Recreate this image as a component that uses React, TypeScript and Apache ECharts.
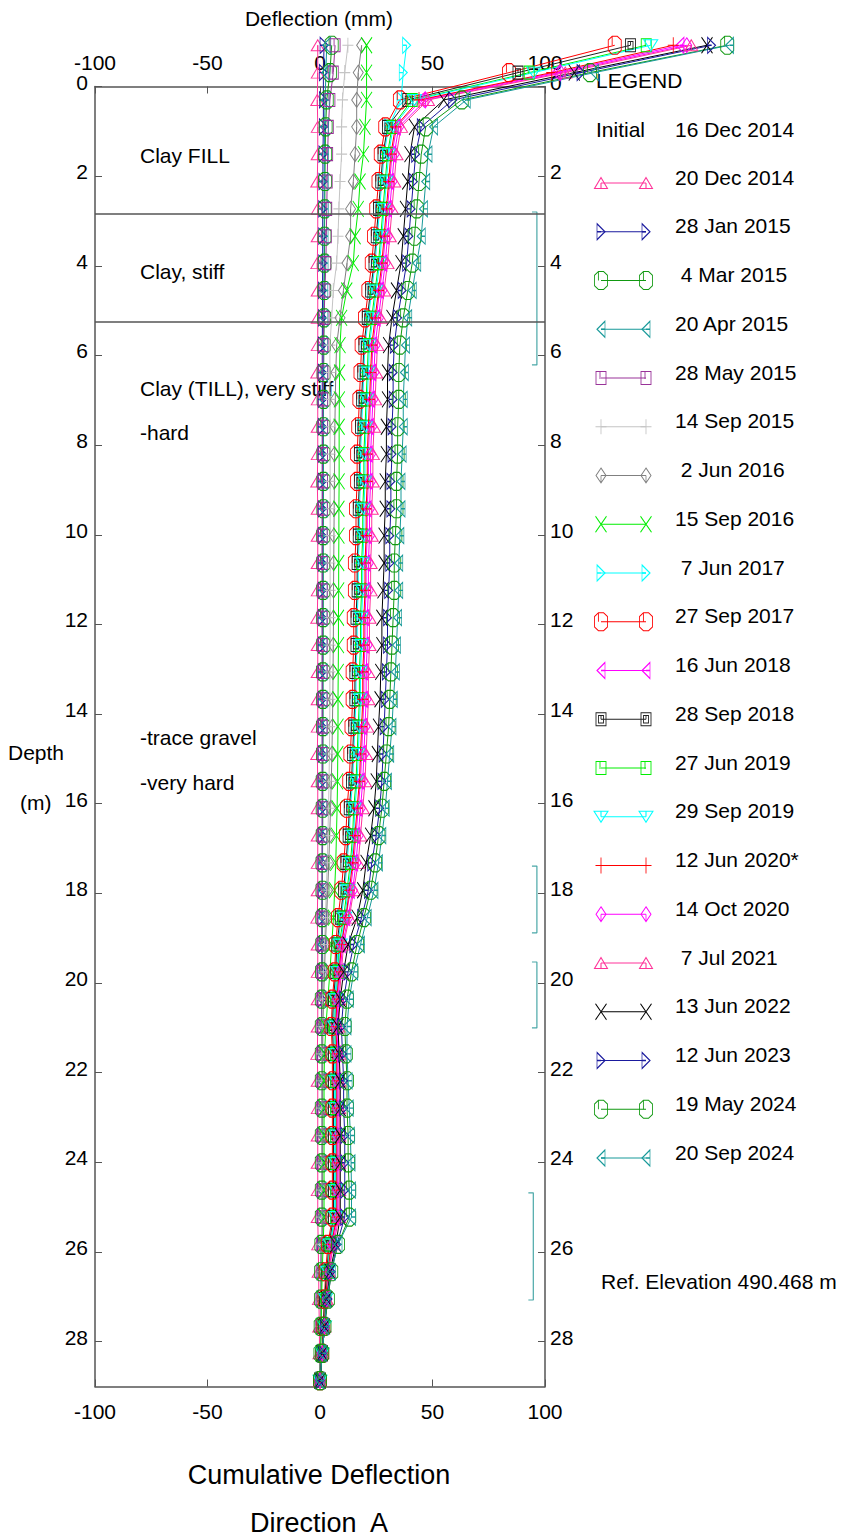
import React, { useEffect, useRef } from 'react';
import * as echarts from 'echarts';

// Depth of each reading (m)
const DEPTHS = [
  -0.92, -0.31, 0.30, 0.90, 1.51, 2.12, 2.73, 3.34, 3.94, 4.55,
  5.16, 5.77, 6.38, 6.98, 7.59, 8.20, 8.81, 9.42, 10.02, 10.63,
  11.24, 11.85, 12.46, 13.06, 13.67, 14.28, 14.89, 15.50, 16.10, 16.71,
  17.32, 17.93, 18.54, 19.14, 19.75, 20.36, 20.97, 21.58, 22.18, 22.79,
  23.40, 24.01, 24.62, 25.22, 25.83, 26.44, 27.05, 27.66, 28.26, 28.87,
];

const D_20DEC2014 = [
  -1, -1, -1.2, -1, -1, -1.2, -1, -1, -1.2, -1,
  -1, -1, -1.2, -1, -1, -1, -1.2, -1, -1, -1,
  -1, -1.2, -1, -1, -1, -1, -1.2, -1, -1, -1,
  -1, -1, -1.2, -1, -1, -1, -1, -1.2, -1, -1,
  -1, -1, -1, -1, -0.8, -0.6, -0.5, -0.3, -0.2, 0,
];
const D_28JAN2015 = [
  1.8, 1.5, 1.5, 1.5, 1.3, 1.3, 1.2, 1.2, 1.2, 1.1,
  1.1, 1, 1, 1, 1, 1, 1, 1, 1, 1,
  1, 1, 1, 1, 1, 1, 1, 1, 1, 1,
  1, 1, 0.9, 0.9, 0.8, 0.8, 0.8, 0.8, 0.8, 0.8,
  0.8, 0.8, 0.8, 0.8, 0.6, 0.5, 0.4, 0.3, 0.2, 0,
];
const D_4MAR2015 = [
  5.2, 4.4, 3, 2.5, 2.3, 2.2, 2.1, 2, 2, 1.9,
  1.8, 1.7, 1.6, 1.6, 1.5, 1.5, 1.5, 1.5, 1.4, 1.4,
  1.4, 1.4, 1.4, 1.3, 1.3, 1.3, 1.3, 1.2, 1.2, 1.2,
  1.1, 1.1, 1, 1, 0.9, 0.8, 0.8, 0.8, 0.8, 0.8,
  0.8, 0.8, 0.8, 0.8, 0.6, 0.5, 0.4, 0.3, 0.2, 0,
];
const D_20APR2015 = [
  3, 2.6, 2.3, 2, 2, 1.9, 1.9, 1.8, 1.8, 1.7,
  1.7, 1.6, 1.6, 1.5, 1.5, 1.5, 1.5, 1.4, 1.4, 1.4,
  1.4, 1.3, 1.3, 1.3, 1.3, 1.3, 1.2, 1.2, 1.2, 1.1,
  1.1, 1, 1, 0.9, 0.9, 0.8, 0.8, 0.8, 0.8, 0.8,
  0.8, 0.8, 0.8, 0.8, 0.6, 0.5, 0.4, 0.3, 0.2, 0,
];
const D_28MAY2015 = [
  6.7, 5.9, 4.4, 3.7, 3.4, 3.2, 3, 2.8, 2.6, 2.2,
  1.8, 1.4, 1.3, 1.2, 1.2, 1.1, 1.1, 1.1, 1, 1,
  1, 1, 1, 1, 1, 1, 1, 1, 1, 1,
  0.9, 0.9, 0.9, 0.8, 0.8, 0.8, 0.8, 0.8, 0.8, 0.8,
  0.8, 0.8, 0.8, 0.8, 0.6, 0.5, 0.4, 0.3, 0.2, 0,
];
const D_14SEP2015 = [
  12.4, 11, 10, 9.6, 9.6, 8.9, 8.4, 8, 7.4, 5.9,
  5.2, 4.4, 4.4, 4.4, 4.5, 4.5, 4.5, 4.5, 4.5, 4.5,
  4.5, 4.5, 4.5, 4.4, 4.4, 4.3, 4.2, 4, 3.8, 3.5,
  3.2, 2.8, 2.4, 2, 1.6, 1.2, 1, 0.8, 0.8, 0.8,
  0.8, 0.8, 0.8, 0.8, 0.6, 0.5, 0.4, 0.3, 0.2, 0,
];
const D_2JUN2016 = [
  18.5, 17, 16.3, 16.3, 15.6, 14.8, 13.6, 13.6, 12, 10.4,
  8.9, 7.4, 7, 6.8, 6.6, 6.5, 6.4, 6.3, 6.2, 6.1,
  6, 6, 5.9, 5.8, 5.7, 5.5, 5.3, 5, 4.7, 4.3,
  3.9, 3.4, 2.9, 2.4, 2, 1.6, 1.3, 1.2, 1.2, 1.2,
  1.2, 1.2, 1.2, 1.2, 0.9, 0.7, 0.5, 0.4, 0.2, 0,
];
const D_15SEP2016 = [
  20.7, 20.7, 20.7, 20, 19.3, 17.8, 17, 15.6, 14.8, 11.9,
  9.6, 8.9, 8.7, 8.6, 8.5, 8.5, 8.5, 8.4, 8.4, 8.3,
  8.3, 8.2, 8.2, 8.1, 8, 8, 7.9, 7.8, 7.6, 7.3,
  7, 6.5, 6, 5.2, 4.4, 3.5, 2.6, 2, 1.8, 1.8,
  1.8, 1.8, 1.8, 1.8, 1.4, 1, 0.7, 0.5, 0.3, 0,
];
const D_7JUN2017 = [
  38.5, 37, 36, 30.5, 28.5, 27.5, 26.5, 25.5, 24.5, 23,
  21.5, 20, 19.5, 19, 18.5, 18, 18, 17.5, 17.5, 17,
  17, 16.5, 16.5, 16, 16, 15.5, 15, 14.5, 13.5, 13,
  12, 11, 9.5, 8, 7.5, 6.5, 6, 6.5, 6.5, 6.5,
  6.5, 6.5, 6.5, 6.5, 4.5, 3.5, 2.5, 2, 1, 0,
];
const D_27SEP2017 = [
  131, 84, 35.5, 29, 27, 26, 25, 24, 23, 21.5,
  20, 18.5, 18, 17.5, 17, 16.5, 16.5, 16, 16, 15.5,
  15.5, 15, 15, 14.5, 14.5, 14, 13.5, 13, 12, 11.5,
  10.5, 9.5, 8, 7, 6.5, 5.5, 5, 5.5, 5.5, 5.5,
  5.5, 5.5, 5.5, 5.5, 3.5, 2.5, 2, 1.5, 1, 0,
];
const D_16JUN2018 = [
  160, 105, 45, 34, 32, 31, 30, 29, 28, 26.5,
  25, 23.5, 23, 22.5, 22, 21.5, 21.5, 21, 21, 20.5,
  20.5, 20, 20, 19.5, 19.5, 19, 18.5, 18, 17, 16,
  15, 13.5, 11.5, 9.5, 8.5, 7.5, 7, 7.5, 7.5, 7.5,
  7.5, 7.5, 7.5, 7.5, 5, 3.5, 2.5, 2, 1, 0,
];
const D_28SEP2018 = [
  138, 88, 39, 30, 28, 27, 26, 25, 24, 22.5,
  21, 19.5, 19, 18.5, 18, 17.5, 17.5, 17, 17, 16.5,
  16.5, 16, 16, 15.5, 15.5, 15, 14.5, 14, 13, 12.5,
  11.5, 10.5, 9, 7.5, 7, 6, 5.5, 6, 6, 6,
  6, 6, 6, 6, 4, 3, 2, 1.5, 1, 0,
];
const D_27JUN2019 = [
  145, 93, 41, 32, 30, 29, 28, 27, 26, 24.5,
  23, 21.5, 21, 20.5, 20, 19.5, 19.5, 19, 19, 18.5,
  18.5, 18, 18, 17.5, 17.5, 17, 16.5, 16, 15, 14.5,
  13.5, 12, 10.5, 8.5, 8, 7, 6.5, 7, 7, 7,
  7, 7, 7, 7, 4.5, 3.5, 2.5, 2, 1, 0,
];
const D_29SEP2019 = [
  147, 95, 42, 32.5, 30.5, 29.5, 28.5, 27.5, 26.5, 25,
  23.5, 22, 21.5, 21, 20.5, 20, 20, 19.5, 19.5, 19,
  19, 18.5, 18.5, 18, 18, 17.5, 17, 16.5, 15.5, 15,
  14, 12.5, 11, 9, 8, 7, 6.5, 7, 7, 7,
  7, 7, 7, 7, 4.5, 3.5, 2.5, 2, 1, 0,
];
const D_12JUN2020 = [
  157, 103, 44, 33.5, 31.5, 30.5, 29.5, 28.5, 27.5, 26,
  24.5, 23, 22.5, 22, 21.5, 21, 21, 20.5, 20.5, 20,
  20, 19.5, 19.5, 19, 19, 18.5, 18, 17.5, 16.5, 15.5,
  14.5, 13, 11.5, 9.5, 8.5, 7.5, 7, 7.5, 7.5, 7.5,
  7.5, 7.5, 7.5, 7.5, 5, 3.5, 2.5, 2, 1, 0,
];
const D_14OCT2020 = [
  163, 107, 47, 35, 33, 32, 31, 30, 29, 27.5,
  26, 24.5, 24, 23.5, 23, 22.5, 22.5, 22, 22, 21.5,
  21.5, 21, 21, 20.5, 20.5, 20, 19.5, 19, 18, 17,
  16, 14.5, 12.5, 10, 9, 8, 7.5, 8, 8, 8,
  8, 8, 8, 8, 5.5, 4, 3, 2, 1, 0,
];
const D_7JUL2021 = [
  165, 109, 48, 36, 34, 33, 32, 31, 30, 28.5,
  27, 25.5, 25, 24.5, 24, 23.5, 23.5, 23, 23, 22.5,
  22.5, 22, 22, 21.5, 21.5, 21, 20.5, 20, 19, 18,
  17, 15, 13, 10.5, 9.5, 8.5, 8, 8.5, 8.5, 8.5,
  8.5, 8.5, 8.5, 8.5, 6, 4, 3, 2, 1, 0,
];
const D_13JUN2022 = [
  172, 113, 55, 42, 40, 39, 38, 37, 36, 34,
  32, 30.5, 30, 30, 29.5, 29.5, 29, 29, 28.5, 28.5,
  28, 27.5, 27.5, 27, 26.7, 26, 25.5, 25, 24, 22.5,
  20.5, 19, 16.5, 12.5, 10.5, 9, 8, 8.5, 9, 9,
  9, 9, 9, 9, 7, 4.5, 3, 2, 1, 0,
];
const D_12JUN2023 = [
  174, 116, 59, 45, 42.5, 41.5, 40.5, 39.5, 38.5, 36.5,
  34.5, 33, 32.5, 32.5, 32, 32, 31.5, 31.5, 31, 31,
  30.5, 30, 30, 29.5, 29, 28.5, 28, 27.5, 26.5, 25,
  23, 21.5, 18.5, 15, 12.5, 10.5, 9.5, 10, 10.5, 10.5,
  11, 11, 11, 11, 7.5, 5, 3.5, 2, 1, 0,
];
const D_19MAY2024 = [
  181, 120, 63, 47, 45, 44, 43, 42, 41, 39,
  37, 35.5, 35, 35, 34.5, 34.5, 34, 34, 33.5, 33,
  33, 32.5, 32, 31.5, 31, 30.5, 29.5, 28.5, 27.5, 26,
  24.5, 22.5, 19.5, 16.5, 14, 12, 11, 11.5, 12, 12,
  12.5, 12.5, 13, 13, 8, 5, 3.5, 2, 1, 0,
];
const D_20SEP2024 = [
  182, 122, 65, 50.5, 48, 47, 46, 45, 43, 41,
  39, 38, 37.5, 37, 37, 36.5, 36, 36, 35.5, 35,
  35, 34.5, 34, 33.5, 32.6, 32, 31, 30, 29, 27.5,
  26, 24, 21, 18, 15, 13, 12, 12, 12.5, 13,
  13.5, 13.8, 14, 14, 8, 5, 3, 2, 1, 0,
];

const SERIES_NAMES = [
  '20 Dec 2014', '28 Jan 2015', ' 4 Mar 2015', '20 Apr 2015', '28 May 2015',
  '14 Sep 2015', ' 2 Jun 2016', '15 Sep 2016', ' 7 Jun 2017', '27 Sep 2017',
  '16 Jun 2018', '28 Sep 2018', '27 Jun 2019', '29 Sep 2019', '12 Jun 2020*',
  '14 Oct 2020', ' 7 Jul 2021', '13 Jun 2022', '12 Jun 2023', '19 May 2024',
  '20 Sep 2024',
];
const SERIES_VALUES = [
  D_20DEC2014, D_28JAN2015, D_4MAR2015, D_20APR2015, D_28MAY2015,
  D_14SEP2015, D_2JUN2016, D_15SEP2016, D_7JUN2017, D_27SEP2017,
  D_16JUN2018, D_28SEP2018, D_27JUN2019, D_29SEP2019, D_12JUN2020,
  D_14OCT2020, D_7JUL2021, D_13JUN2022, D_12JUN2023, D_19MAY2024,
  D_20SEP2024,
];

const INITIAL_DATE = '16 Dec 2014';
const X_MIN = -100;
const X_MAX = 100;
const X_STEP = 50;
const DEPTH_MAX = 29;
const DEPTH_STEP = 2;
const SOIL_BOUNDARIES = [2.84, 5.25];
const BRACKETS = [[2.8, 6.21], [17.39, 18.88], [19.53, 21.0], [24.68, 27.07]];

// marker shapes
const TRI_UP = 'path://M0,10L5,0L10,10ZM5,10L5,5';
const TRI_RIGHT = 'path://M0,0L10,5L0,10ZM0,5L5,5';
const TRI_LEFT = 'path://M10,0L0,5L10,10ZM10,5L5,5';
const TRI_DOWN = 'path://M0,0L10,0L5,10ZM5,0L5,5';
const OCT = 'path://M3,0L7,0L10,3L10,11L7,14L3,14L0,11L0,3ZM3,0L3,7';
const SQUARE = 'path://M0,0L10,0L10,12L0,12ZM4,0L4,7';
const SQUARE2 = 'path://M0,0L10,0L10,12L0,12ZM2.5,2.5L7.5,2.5L7.5,9.5L2.5,9.5ZM5,2.5L5,6';
const PLUS = 'path://M5,0L5,10M0,5L10,5';
const DIAM = 'path://M5,0L10,7L5,14L0,7ZM5,14L5,7';
const XMARK = 'path://M0,0L10,14M10,0L0,14';

const PINK = '#ff3399';
const NAVY = '#1a1a9e';
const GREEN = '#119911';
const TEAL = '#179999';
const STYLES = [
  { c: PINK, s: TRI_UP, z: [13, 11] },
  { c: NAVY, s: TRI_RIGHT, z: [8, 16] },
  { c: GREEN, s: OCT, z: [13, 18] },
  { c: TEAL, s: TRI_LEFT, z: [8, 16] },
  { c: '#993399', s: SQUARE, z: [10, 13] },
  { c: '#c4c4c4', s: PLUS, z: [11, 15] },
  { c: '#808080', s: DIAM, z: [10, 15] },
  { c: '#00ee00', s: XMARK, z: [11, 16] },
  { c: '#00ffff', s: TRI_RIGHT, z: [8, 16] },
  { c: '#ff0000', s: OCT, z: [13, 18] },
  { c: '#ff00ff', s: TRI_LEFT, z: [8, 16] },
  { c: '#222222', s: SQUARE2, z: [10, 13] },
  { c: '#00ee00', s: SQUARE, z: [10, 13] },
  { c: '#00ffff', s: TRI_DOWN, z: [14, 11] },
  { c: '#ff0000', s: PLUS, z: [11, 16] },
  { c: '#ff00ff', s: DIAM, z: [10, 15] },
  { c: PINK, s: TRI_UP, z: [13, 11] },
  { c: '#000000', s: XMARK, z: [11, 16] },
  { c: NAVY, s: TRI_RIGHT, z: [8, 16] },
  { c: GREEN, s: OCT, z: [13, 18] },
  { c: TEAL, s: TRI_LEFT, z: [8, 16] },
];

const FONT = "'Liberation Sans', Arial, sans-serif";

// plot geometry
const CHART_W = 843;
const CHART_H = 1539;
const PLOT_LEFT = 95;
const PLOT_TOP = 86.5;
const PLOT_W = 450;
const PLOT_H = 1300;

export default function App() {
  const ref = useRef<HTMLDivElement>(null);
  useEffect(() => {
    if (!ref.current) return;
    const chart = echarts.init(ref.current, null, { renderer: 'svg' });
    const axisLine = { show: true, onZero: false, lineStyle: { color: '#555', width: 1.5 } };
    const axisTick = { show: true, inside: true, length: 7, lineStyle: { color: '#555', width: 1 } };
    const lbl = { color: '#000', fontSize: 21, fontFamily: FONT };

    // data are drawn on a hidden, wider coordinate system with the same scale
    // (extending to the right edge of the page), so readings beyond 100 mm are not clipped
    const wideWidth = CHART_W - PLOT_LEFT;
    const wideMax = X_MIN + ((X_MAX - X_MIN) * wideWidth) / PLOT_W;

    const dataSeries: any[] = SERIES_VALUES.map((vals, i) => ({
      type: 'line',
      name: SERIES_NAMES[i],
      xAxisIndex: 3,
      yAxisIndex: 3,
      data: DEPTHS.map((d, k) => [vals[k], d]),
      symbol: STYLES[i].s,
      symbolSize: STYLES[i].z,
      showAllSymbol: true,
      clip: false,
      silent: true,
      lineStyle: { color: STYLES[i].c, width: 1 },
      itemStyle: { color: 'transparent', borderColor: STYLES[i].c, borderWidth: 1 },
      z: 3,
    }));

    const bracketSeries: any[] = BRACKETS.map(([a, b], i) => {
      const xv = i === 3 ? 94.8 : 96.4;
      const xc = xv - 2.2;
      return {
        type: 'line',
        xAxisIndex: 0,
        yAxisIndex: 0,
        data: [[xc, a], [xv, a], [xv, b], [xc, b]],
        symbol: 'none',
        silent: true,
        lineStyle: { color: '#4aa8a8', width: 1.2 },
        z: 2,
      };
    });
    bracketSeries[0].markLine = {
      silent: true,
      symbol: 'none',
      label: { show: false },
      lineStyle: { color: '#555', width: 1.5, type: 'solid' },
      data: SOIL_BOUNDARIES.map((d) => ({ yAxis: d })),
    };

    const legendSeries = SERIES_NAMES.map((n, i) => ({
      type: 'line',
      xAxisIndex: 2,
      yAxisIndex: 2,
      data: [[0, i], [1, i]],
      symbol: STYLES[i].s,
      symbolSize: STYLES[i].z,
      clip: false,
      silent: true,
      lineStyle: { color: STYLES[i].c, width: 1 },
      itemStyle: { color: 'transparent', borderColor: STYLES[i].c, borderWidth: 1 },
    }));

    const txt = (text: string, x: number, y: number, size = 21, align = 'left') => ({
      type: 'text',
      x,
      y,
      silent: true,
      style: { text, fontSize: size, fontFamily: FONT, fill: '#000', align, verticalAlign: 'middle' },
    });

    const graphics: any[] = [
      txt('Deflection (mm)', 319, 18, 21, 'center'),
      txt('Cumulative Deflection', 319, 1475, 27, 'center'),
      txt('Direction  A', 319, 1523, 27, 'center'),
      txt('Depth', 8, 752),
      txt('(m)', 20, 802),
      txt('Clay FILL', 140, 155),
      txt('Clay, stiff', 140, 271),
      txt('Clay (TILL), very stiff', 140, 388),
      txt('-hard', 140, 432),
      txt('-trace gravel', 140, 737),
      txt('-very hard', 140, 782),
      txt('LEGEND', 596, 80),
      txt('Initial', 596, 129),
      txt(INITIAL_DATE, 675, 129),
      txt('Ref. Elevation 490.468 m', 601, 1281),
      ...SERIES_NAMES.map((n, i) => txt(n, 675, 177 + 48.75 * i)),
    ];

    const xAx = (pos: string) => ({
      gridIndex: 0,
      type: 'value',
      position: pos,
      min: X_MIN,
      max: X_MAX,
      interval: X_STEP,
      axisLine,
      axisTick,
      splitLine: { show: false },
      axisLabel: { ...lbl, margin: 14 },
    });
    const yAx = (pos: string) => ({
      gridIndex: 0,
      type: 'value',
      position: pos,
      inverse: true,
      min: 0,
      max: DEPTH_MAX,
      interval: DEPTH_STEP,
      axisLine,
      axisTick,
      splitLine: { show: false },
      axisLabel: {
        ...lbl,
        margin: pos === 'left' ? 7 : 5,
        verticalAlign: 'bottom',
        lineHeight: 9,
        showMaxLabel: false,
      },
    });

    chart.setOption({
      animation: false,
      backgroundColor: '#fff',
      grid: [
        { left: PLOT_LEFT, top: PLOT_TOP, width: PLOT_W, height: PLOT_H },
        { left: 601, top: 183, width: 45, height: 975 },
        { left: PLOT_LEFT, top: PLOT_TOP, right: 0, height: PLOT_H },
      ],
      xAxis: [
        xAx('bottom'),
        xAx('top'),
        { gridIndex: 1, type: 'value', min: 0, max: 1, show: false },
        { gridIndex: 2, type: 'value', min: X_MIN, max: wideMax, show: false },
      ],
      yAxis: [
        yAx('left'),
        yAx('right'),
        { gridIndex: 1, type: 'value', inverse: true, min: 0, max: 20, show: false },
        { gridIndex: 2, type: 'value', inverse: true, min: 0, max: DEPTH_MAX, show: false },
      ],
      series: [...bracketSeries, ...dataSeries, ...legendSeries],
      graphic: graphics,
    });
    return () => chart.dispose();
  }, []);
  return (
    <div
      ref={ref}
      style={{ position: 'absolute', left: 0, top: 0, width: CHART_W, height: CHART_H, background: '#fff' }}
    />
  );
}
